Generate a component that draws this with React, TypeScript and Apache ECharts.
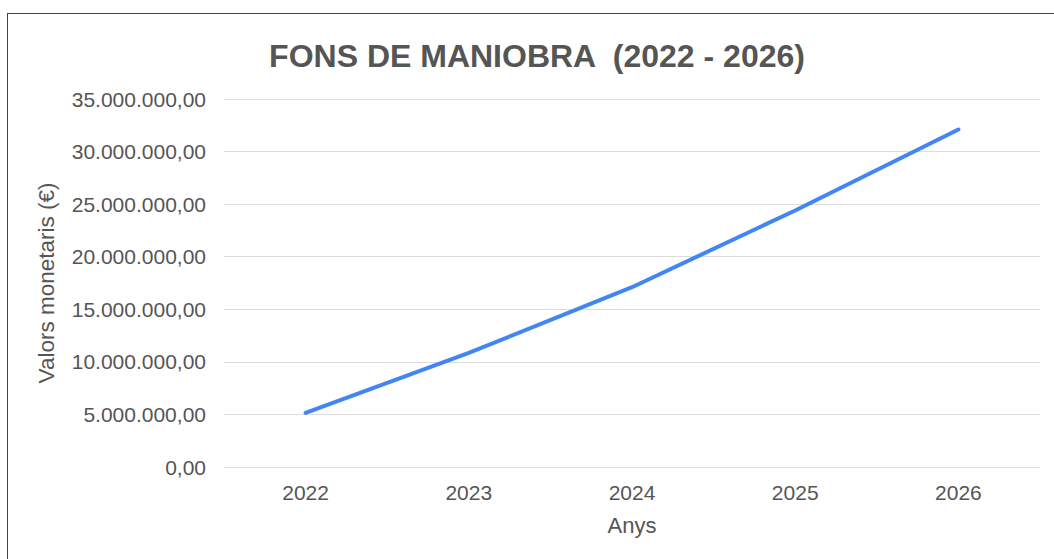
import React, { useEffect, useRef } from "react";
import * as echarts from "echarts";

const years = ["2022", "2023", "2024", "2025", "2026"];
const fonsManiobra = [5150000, 10850000, 17100000, 24400000, 32100000];
const yTicks = { min: 0, max: 35000000, interval: 5000000 };

function fmt(v: number): string {
  const [i, d] = v.toFixed(2).split(".");
  return i.replace(/\B(?=(\d{3})+(?!\d))/g, ".") + "," + d;
}

export default function App() {
  const ref = useRef<HTMLDivElement>(null);
  useEffect(() => {
    if (!ref.current) return;
    const chart = echarts.init(ref.current, undefined, { renderer: "svg" });
    const font = "Arial, 'Liberation Sans', sans-serif";
    chart.setOption({
      animation: false,
      backgroundColor: "#fff",
      title: {
        text: "FONS DE MANIOBRA  (2022 - 2026)",
        left: 532,
        top: 35,
        textAlign: "center",
        textStyle: { fontFamily: font, fontSize: 32, fontWeight: "bold", color: "#555" },
      },
      grid: { left: 224, right: 14, top: 99, bottom: 92, containLabel: false },
      xAxis: {
        type: "category",
        data: years,
        boundaryGap: true,
        axisLine: { show: false },
        axisTick: { show: false },
        axisLabel: { color: "#555", fontFamily: font, fontSize: 21, margin: 15 },
        name: "Anys",
        nameLocation: "middle",
        nameGap: 47,
        nameTextStyle: { color: "#555", fontFamily: font, fontSize: 22, verticalAlign: "top" },
      },
      yAxis: {
        type: "value",
        min: yTicks.min,
        max: yTicks.max,
        interval: yTicks.interval,
        axisLine: { show: false },
        axisTick: { show: false },
        splitLine: { lineStyle: { color: "#dddddd", width: 1 } },
        axisLabel: { color: "#555", fontFamily: font, fontSize: 21, margin: 18, formatter: (v: number) => fmt(v) },
        name: "Valors monetaris (€)",
        nameLocation: "middle",
        nameGap: 166,
        nameTextStyle: { color: "#555", fontFamily: font, fontSize: 22.5 },
      },
      series: [
        {
          type: "line",
          data: fonsManiobra,
          smooth: false,
          symbol: "none",
          lineStyle: { color: "#4285F4", width: 4, cap: "round" },
        },
      ],
    });
    return () => chart.dispose();
  }, []);
  return (
    <div style={{ position: "fixed", left: 0, top: 0, width: 1054, height: 559, background: "#fff" }}>
      <div ref={ref} style={{ position: "absolute", left: 0, top: 0, width: 1054, height: 559 }} />
      <div
        style={{
          position: "absolute",
          left: 7,
          top: 13,
          right: 0,
          bottom: 0,
          borderTop: "1.5px solid #444",
          borderLeft: "1.5px solid #444",
          pointerEvents: "none",
        }}
      />
    </div>
  );
}
